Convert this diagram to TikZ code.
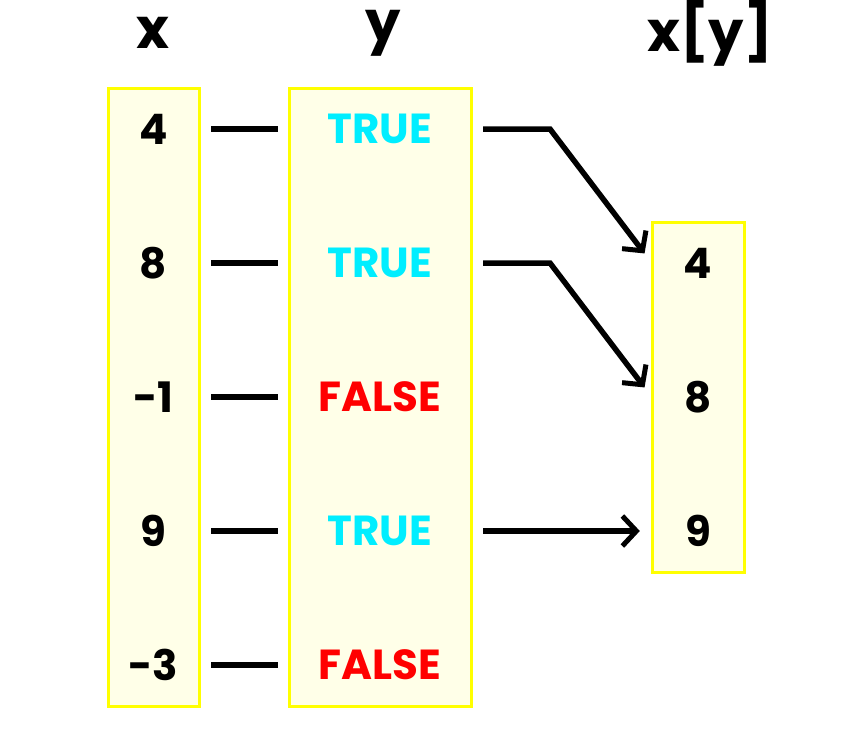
\documentclass[tikz,border=0pt]{standalone}
\usepackage{fontspec}
\setmainfont{Poppins}
\usetikzlibrary{arrows.meta}
\definecolor{cellfill}{RGB}{255,255,232}
\definecolor{cellborder}{RGB}{255,255,0}
\definecolor{truecol}{RGB}{0,238,255}
\definecolor{falsecol}{RGB}{255,0,0}
\tikzset{
  colbox/.style={draw=cellborder, fill=cellfill, line width=3pt},
  cell/.style={inner sep=0pt, minimum height=40pt, font=\fontsize{42}{46}\selectfont\bfseries},
  head/.style={inner sep=0pt, font=\fontsize{56}{60}\selectfont\bfseries},
  link/.style={line width=5.5pt, shorten <=12pt, shorten >=11pt},
  arr/.style={line width=5.5pt, shorten <=12pt, shorten >=12pt, -{Straight Barb[length=14pt,width=30pt,line width=5pt]}},
}
\begin{document}
\begin{tikzpicture}[x=1pt,y=-1pt]
\useasboundingbox (0,0) rectangle (866,740);
% column boxes
\draw[colbox] (108,88) rectangle (199,706);
\draw[colbox] (289,88) rectangle (471,706);
\draw[colbox] (652,222) rectangle (744,572);
% headers
\node[head] (hx) at (153,33) {x};
\node[head] (hy) at (383,33) {y};
\node[head] (hxy) at (710,33) {x[y]};
% x cells
\foreach \i/\v [evaluate=\i as \yy using 129+134*(\i-1)] in {1/4,2/8,3/-1,4/9,5/-3}
  \node[cell, minimum width=91pt] (x\i) at (153.5,\yy) {\v};
% y cells
\node[cell, minimum width=182pt, text=truecol] (y1) at (380,129) {TRUE};
\node[cell, minimum width=182pt, text=truecol] (y2) at (380,263) {TRUE};
\node[cell, minimum width=182pt, text=falsecol] (y3) at (380,397) {FALSE};
\node[cell, minimum width=182pt, text=truecol] (y4) at (380,531) {TRUE};
\node[cell, minimum width=182pt, text=falsecol] (y5) at (380,665) {FALSE};
% result cells
\node[cell, minimum width=92pt] (r1) at (698,263) {4};
\node[cell, minimum width=92pt] (r2) at (698,397) {8};
\node[cell, minimum width=92pt] (r3) at (698,531) {9};
% links x -> y
\foreach \i in {1,...,5}
  \draw[link] (x\i.east) -- (y\i.west);
% corners
\coordinate (c1) at (550,129);
\coordinate (c2) at (550,263);
% arrows
\draw[arr] (y1.east) -- (c1) -- (r1.west);
\draw[arr] (y2.east) -- (c2) -- (r2.west);
\draw[arr] (y4.east) -- (r3.west);
\end{tikzpicture}
\end{document}
